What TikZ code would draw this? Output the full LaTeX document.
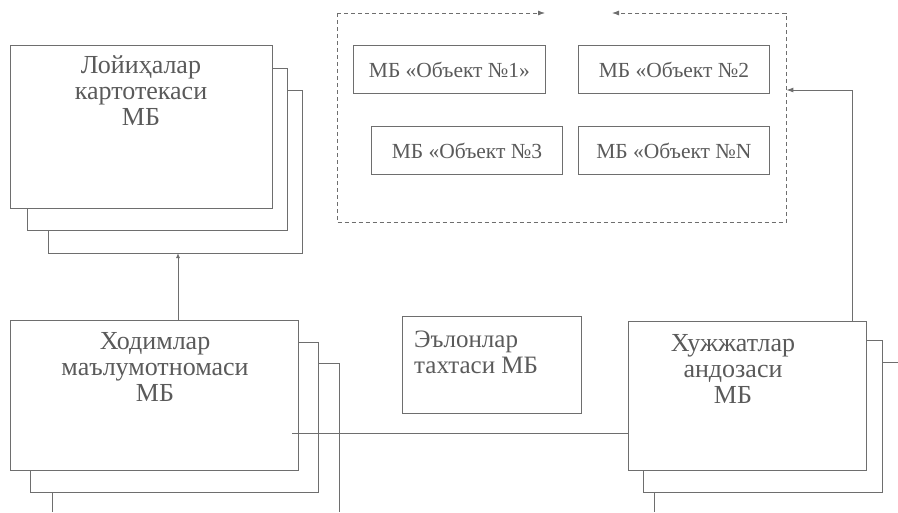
\documentclass[tikz,border=0pt]{standalone}
\usepackage{fontspec}
\setmainfont{Liberation Serif}
\usetikzlibrary{arrows.meta}
\definecolor{ln}{HTML}{6E6E6E}
\definecolor{tx}{HTML}{5A5A5A}
\tikzset{
  box/.style={draw=ln, line width=0.9pt, anchor=north west, inner sep=0pt},
  layer/.style={draw=ln, line width=0.9pt},
  big/.style={text=tx, font=\fontsize{26}{26}\selectfont, align=center, inner sep=0pt, anchor=base},
  small/.style={text=tx, font=\fontsize{21.5}{22}\selectfont, inner sep=0pt},
  grp/.style={draw=ln, line width=0.8pt, dash pattern=on 4pt off 3pt},
  conn/.style={draw=ln, line width=0.9pt},
  tip/.style={-{Latex[length=7pt,width=5pt]}}
}
\begin{document}
\begin{tikzpicture}[x=1pt,y=-1pt]
\useasboundingbox (0,0) rectangle (898,512);
% Loyihalar stack
\draw[layer] (272,68) -- (287,68) -- (287,230) -- (27,230) -- (27,208);
\draw[layer] (287,90) -- (302,90) -- (302,253) -- (48,253) -- (48,230);
\node[box, minimum width=262pt, minimum height=163pt, fill=white] (loy) at (10,45) {};
\node[big] (loyt) at (141,125) {Лойиҳалар\\картотекаси\\МБ};
% Xodimlar stack
\draw[layer] (298,342) -- (318,342) -- (318,492) -- (30,492) -- (30,470);
\draw[layer] (318,363) -- (339,363) -- (339,512);
\draw[layer] (52,492) -- (52,512);
\node[box, minimum width=288pt, minimum height=150pt, fill=white] (hod) at (10,320) {};
\node[big] (hodt) at (155,401) {Ходимлар\\маълумотномаси\\МБ};
% Elonlar
\node[box, minimum width=179pt, minimum height=97pt] (elon) at (402,316) {};
\node[small, anchor=base west, align=left, font=\fontsize{25}{26}\selectfont] (elont) at (414,373) {Эълонлар\\тахтаси МБ};
% Xujjatlar stack
\draw[layer] (866,340) -- (882,340) -- (882,492) -- (643,492) -- (643,470);
\draw[layer] (882,362) -- (898,362);
\draw[layer] (654,492) -- (654,512);
\node[box, minimum width=238pt, minimum height=149pt, fill=white] (xuj) at (628,321) {};
\node[big] (xujt) at (733,403) {Хужжатлар\\андозаси\\МБ};
% group
\node[anchor=north west, minimum width=449pt, minimum height=209pt, inner sep=0pt] (grp) at (337,13) {};
\draw[grp] (grp.north west) -- (grp.south west) -- (grp.south east) -- (grp.north east);
\coordinate (ta) at (545,13);
\coordinate (tb) at (612,13);
\draw[grp, tip] (grp.north west) -- (ta);
\draw[grp, tip] (grp.north east) -- (tb);
\node[box, minimum width=192pt, minimum height=48pt] (o1) at (353,45) {};
\node[small] (o1t) at (o1.center) {МБ «Объект №1»};
\node[box, minimum width=191pt, minimum height=48pt] (o2) at (578,45) {};
\node[small] (o2t) at (o2.center) {МБ «Объект №2};
\node[box, minimum width=191pt, minimum height=48pt] (o3) at (371,126) {};
\node[small] (o3t) at (o3.center) {МБ «Объект №3};
\node[box, minimum width=191pt, minimum height=48pt] (on) at (578,126) {};
\node[small] (ont) at (on.center) {МБ «Объект №N};
% connectors
\coordinate (l3b) at (178,253);
\draw[conn, -{Latex[length=5pt,width=4pt]}] (hod.north -| l3b) -- (l3b);
\coordinate (hx) at (292,433);
\draw[conn] (hx) -- (hx -| xuj.west);
\coordinate (xc) at (852,90);
\draw[conn, tip] (xuj.north -| xc) -- (xc) -- (grp.east |- xc);
\end{tikzpicture}
\end{document}
